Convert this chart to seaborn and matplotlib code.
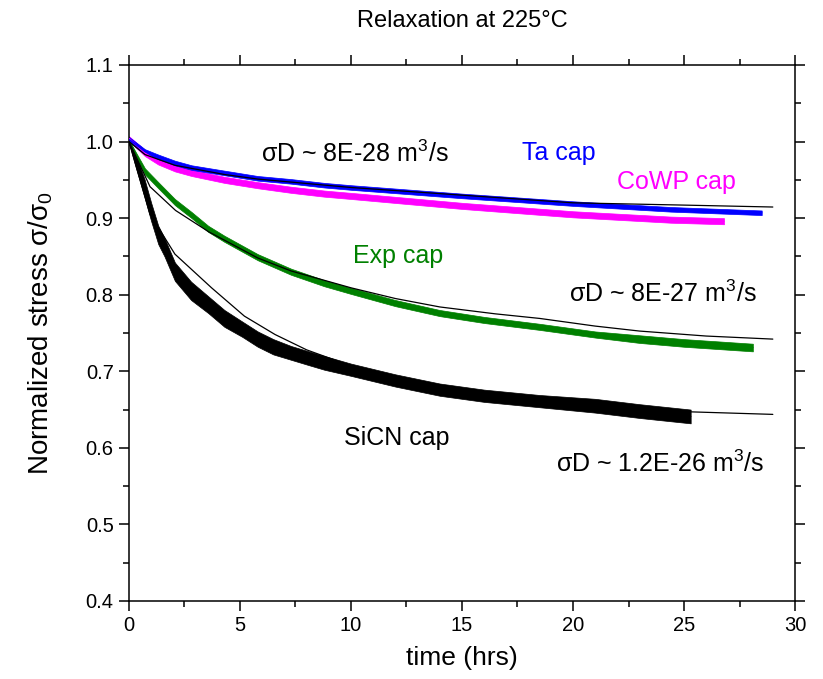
import matplotlib
matplotlib.use("Agg")
import matplotlib.pyplot as plt
import seaborn as sns
import pandas as pd
from matplotlib.ticker import MultipleLocator

# ---------------- data ----------------
sicn_t = [0, 0.27, 0.7, 1.0, 1.32, 1.6, 2.07, 2.8, 3.57, 4.3, 5.1, 5.8, 6.5, 7.3, 8.1, 8.8,
          10, 12, 14, 16, 18.5, 21, 23, 25.3]
sicn_v = [1.0, 0.978, 0.939, 0.908, 0.878, 0.862, 0.830, 0.805, 0.787, 0.769, 0.755, 0.742,
          0.732, 0.724, 0.717, 0.711, 0.702, 0.688, 0.676, 0.668, 0.661, 0.655, 0.648, 0.641]
sicn_w = [0.002, 0.008, 0.012, 0.012, 0.012, 0.012, 0.012, 0.012, 0.011, 0.011, 0.010, 0.010,
          0.010, 0.009, 0.009, 0.009, 0.008, 0.008, 0.008, 0.008, 0.008, 0.009, 0.009, 0.009]

exp_t = [0, 0.72, 1.32, 2.07, 2.82, 3.57, 4.3, 5.8, 7.3, 8.8, 10, 12, 14, 16, 18.5, 21, 23,
         25, 28.1]
exp_v = [1.0, 0.961, 0.943, 0.921, 0.904, 0.886, 0.873, 0.849, 0.830, 0.815, 0.805, 0.789,
         0.776, 0.767, 0.758, 0.748, 0.742, 0.737, 0.731]
exp_w = [0.002, 0.004, 0.004, 0.004, 0.004, 0.004, 0.004, 0.004, 0.004, 0.004, 0.004, 0.004,
         0.004, 0.004, 0.004, 0.004, 0.005, 0.005, 0.005]

cowp_t = [0, 0.72, 1.32, 2.07, 2.82, 4.3, 5.8, 7.3, 8.8, 10, 15, 20, 24.4, 26.8]
cowp_v = [1.004, 0.985, 0.974, 0.965, 0.959, 0.950, 0.943, 0.937, 0.932, 0.929, 0.916, 0.905,
          0.898, 0.896]
cowp_w = [0.003, 0.004, 0.004, 0.004, 0.004, 0.004, 0.004, 0.004, 0.004, 0.004, 0.004, 0.004,
          0.004, 0.004]

ta_t = [0, 0.72, 1.32, 2.07, 2.82, 4.3, 5.8, 7.3, 8.8, 10, 15, 20, 24.4, 28.5]
ta_v = [1.003, 0.987, 0.980, 0.972, 0.966, 0.959, 0.952, 0.948, 0.943, 0.940, 0.929, 0.919,
        0.9115, 0.907]
ta_w = [0.003, 0.003, 0.003, 0.003, 0.003, 0.003, 0.003, 0.003, 0.003, 0.003, 0.003, 0.003,
        0.003, 0.003]

# fitted curves (thin black lines)
fit_low_t = [0, 0.72, 2.07, 4.3, 5.8, 10, 15, 20, 25, 29]
fit_low_v = [1.0, 0.983, 0.969, 0.957, 0.951, 0.940, 0.930, 0.920, 0.917, 0.9145]

fit_mid_t = [0, 0.95, 2.1, 3.6, 5.8, 7.3, 10, 12, 14, 16.5, 18.5, 21, 23, 26, 29]
fit_mid_v = [1.0, 0.941, 0.910, 0.882, 0.848, 0.831, 0.809, 0.795, 0.784, 0.775, 0.769, 0.759,
             0.7525, 0.746, 0.742]

fit_high_t = [0, 0.95, 2.07, 3.72, 5.2, 6.58, 8, 10, 12, 14, 17, 20, 23, 25.3, 29]
fit_high_v = [1.0, 0.905, 0.853, 0.809, 0.772, 0.748, 0.728, 0.707, 0.693, 0.682, 0.669, 0.659,
              0.652, 0.647, 0.6437]

x_ticks = [0, 5, 10, 15, 20, 25, 30]
y_ticks = [0.4, 0.5, 0.6, 0.7, 0.8, 0.9, 1.0, 1.1]

# ---------------- style ----------------
sns.set_style("ticks")
plt.rcParams["font.family"] = ["Liberation Sans", "DejaVu Sans"]
plt.rcParams["mathtext.fontset"] = "custom"
plt.rcParams["mathtext.rm"] = "Liberation Sans"
plt.rcParams["mathtext.it"] = "Liberation Sans:italic"
plt.rcParams["mathtext.bf"] = "Liberation Sans:bold"
for k in ["text.color", "axes.labelcolor", "xtick.color", "ytick.color", "axes.edgecolor"]:
    plt.rcParams[k] = "black"

fig = plt.figure(figsize=(8.23, 6.79), dpi=100)
ax = fig.add_axes([0.1567, 0.1149, 0.8093, 0.7894])

series = [
    ("SiCN", sicn_t, sicn_v, sicn_w, "black"),
    ("Exp", exp_t, exp_v, exp_w, "#008000"),
    ("CoWP", cowp_t, cowp_v, cowp_w, "#ff00ff"),
    ("Ta", ta_t, ta_v, ta_w, "#0000ff"),
]
for name, t, v, w, c in series:
    df = pd.DataFrame({"t": t, "v": v})
    lo = [a - b for a, b in zip(v, w)]
    hi = [a + b for a, b in zip(v, w)]
    ax.fill_between(t, lo, hi, color=c, lw=0.5, zorder=2)
    sns.lineplot(data=df, x="t", y="v", ax=ax, color=c, lw=1.0, zorder=3, legend=False)

for t, v in [(fit_low_t, fit_low_v), (fit_mid_t, fit_mid_v), (fit_high_t, fit_high_v)]:
    df = pd.DataFrame({"t": t, "v": v})
    sns.lineplot(data=df, x="t", y="v", ax=ax, color="black", lw=0.9, zorder=4, legend=False)

ax.set_xlim(0, 30)
ax.set_ylim(0.4, 1.1)
ax.set_xticks(x_ticks)
ax.set_yticks(y_ticks)
ax.set_xticklabels([str(x) for x in x_ticks])
ax.set_yticklabels([f"{y:.1f}" for y in y_ticks])
ax.xaxis.set_minor_locator(MultipleLocator(2.5))
ax.yaxis.set_minor_locator(MultipleLocator(0.05))
ax.tick_params(which="both", direction="out", top=True, right=True, width=1.1,
               labelsize=14.5, labeltop=False, labelright=False, color="black",
               labelcolor="black")
ax.tick_params(which="major", length=7, pad=4)
ax.tick_params(which="minor", length=4)
for s in ax.spines.values():
    s.set_visible(True)
    s.set_linewidth(1.1)
    s.set_color("black")

ax.set_xlabel("time (hrs)", fontsize=19, labelpad=8)
ax.set_ylabel(r"Normalized stress σ/σ$_0$", fontsize=20, labelpad=22)
ax.set_title("Relaxation at 225°C", fontsize=17, pad=27)

fs = 18
ax.text(5.95, 0.984, r"σD ~ 8E-28 m$^3$/s", fontsize=fs, va="center", ha="left")
ax.text(17.7, 0.985, "Ta cap", fontsize=fs, color="#0000ff", va="center", ha="left")
ax.text(22.0, 0.9475, "CoWP cap", fontsize=fs, color="#ff00ff", va="center", ha="left")
ax.text(10.1, 0.850, "Exp cap", fontsize=fs, color="#008000", va="center", ha="left")
ax.text(19.8, 0.801, r"σD ~ 8E-27 m$^3$/s", fontsize=fs, va="center", ha="left")
ax.text(9.7, 0.613, "SiCN cap", fontsize=fs, va="center", ha="left")
ax.text(19.25, 0.579, r"σD ~ 1.2E-26 m$^3$/s", fontsize=fs, va="center", ha="left")

fig.savefig("out.png", dpi=100)
